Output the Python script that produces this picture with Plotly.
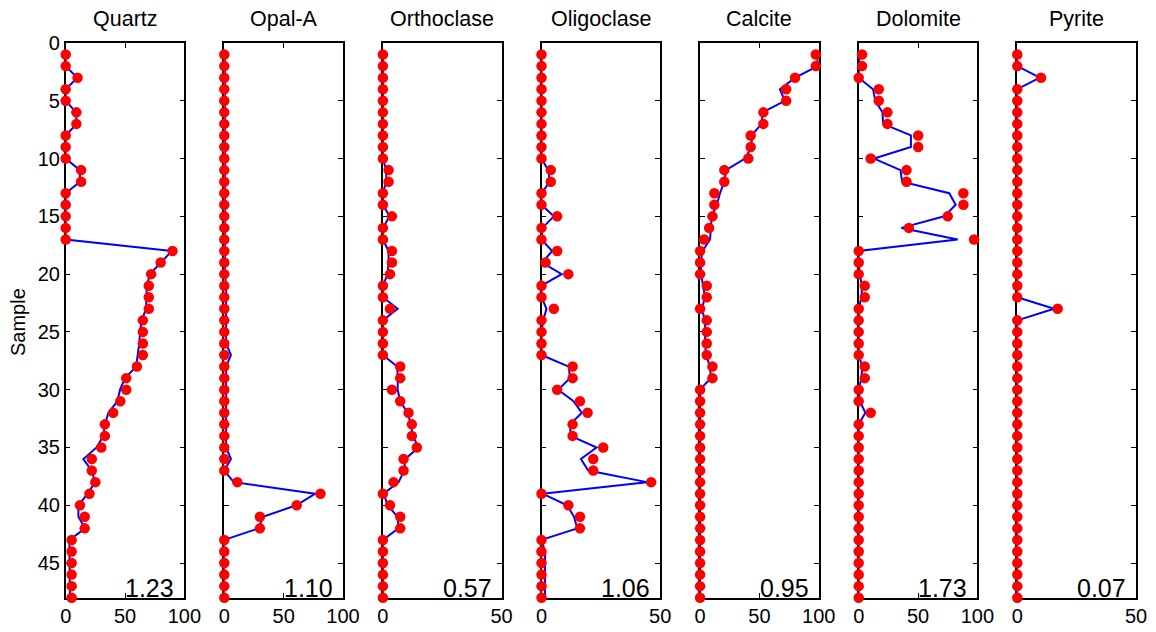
import plotly.graph_objects as go

# Sample numbers (depth order, top to bottom)
samples = list(range(1, 49))

minerals = ["Quartz", "Opal-A", "Orthoclase", "Oligoclase", "Calcite", "Dolomite", "Pyrite"]
x_max = [100, 100, 50, 50, 100, 100, 50]
x_ticks = [[0, 50, 100], [0, 50, 100], [0, 50], [0, 50], [0, 50, 100], [0, 50, 100], [0, 50]]
fit_error = ["1.23", "1.10", "0.57", "1.06", "0.95", "1.73", "0.07"]

# Measured weight percent (red dots)
quartz_meas = [0, 0, 10, 0, 0, 9, 9, 0, 0, 0, 13, 13, 0, 0, 0, 0, 0, 90, 80, 72,
               70, 70, 70, 65, 65, 65, 65, 60, 51, 51, 46, 40, 33, 33, 30, 22, 22, 25, 20, 12,
               16, 16, 5, 5, 5, 5, 5, 5]
opal_meas = [0] * 37 + [11, 81, 61, 30, 30, 0, 0, 0, 0, 0, 0]
orthoclase_meas = [0, 0, 0, 0, 0, 0, 0, 0, 0, 0, 2.4, 2.4, 0, 0, 3.8, 0, 0, 3.8, 3.8, 3,
                   0, 0, 3, 0, 0, 0, 0, 7.3, 7.3, 3.8, 7.3, 10.8, 12.2, 12.2, 14.3, 8.7, 8.7, 4.5, 0, 3,
                   7.3, 7.3, 0, 0, 0, 0, 0, 0]
oligoclase_meas = [0, 0, 0, 0, 0, 0, 0, 0, 0, 0, 3.9, 3.9, 0, 0, 6.6, 0, 0, 6.6, 1.7, 11.3,
                   0, 0, 5.2, 0, 0, 0, 0, 13.1, 13.1, 6.6, 16.2, 19.4, 13.1, 13.1, 26, 21.8, 21.8, 46.2, 0, 11.3,
                   16.2, 16.2, 0, 0, 0, 0, 0, 0]
calcite_meas = [97.5, 97.5, 80, 72.5, 72.5, 53.3, 53.3, 42.6, 42.6, 40.6, 20.4, 20.4, 12, 12, 10.4, 7.6, 3.4, 0, 0, 0,
                5.6, 5.6, 0, 5.6, 5.6, 5.6, 5.6, 10.4, 10.4, 0, 0, 0, 0, 0, 0, 0, 0, 0, 0, 0,
                0, 0, 0, 0, 0, 0, 0, 0]
dolomite_meas = [2.8, 2.8, 0, 16.9, 16.9, 24.2, 24.2, 50.1, 50.1, 10.1, 40.3, 40.3, 88.2, 88.2, 75, 42.3, 97.2, 0, 0, 0,
                 5.1, 5.1, 0, 0, 0, 0, 0, 5.1, 5.1, 0, 0, 10.1, 0, 0, 0, 0, 0, 0, 0, 0,
                 0, 0, 0, 0, 0, 0, 0, 0]
pyrite_meas = [0, 0, 10, 0, 0, 0, 0, 0, 0, 0, 0, 0, 0, 0, 0, 0, 0, 0, 0, 0,
               0, 0, 17, 0, 0, 0, 0, 0, 0, 0, 0, 0, 0, 0, 0, 0, 0, 0, 0, 0,
               0, 0, 0, 0, 0, 0, 0, 0]

# Modelled weight percent (blue lines)
quartz_model = [0, 0, 9.8, 0, 0, 8.7, 9.2, 0, 0, 0, 12, 12, 0, 0, 0, 0, 0, 89.4, 80, 71,
                68.3, 68.3, 67.7, 64, 62.6, 62, 60.7, 59.3, 50, 45.8, 43.5, 36, 33, 31.7, 26, 14.9, 21.9, 24.7, 18.5, 10.7,
                10.7, 16.3, 3.1, 3.1, 3.1, 3.6, 3.6, 3.6]
opal_model = [0.5] * 20 + [1.5, 1.5, 1.5, 1.5, 1.5, 1.5, 5.6, 1.5, 1.5, 1.5,
                           1.5, 1.5, 1.5, 1.5, 1.5, 5.6, 0, 7.9, 76.7, 60.7,
                           32.6, 28.9, 0, 0, 0, 0, 0, 0]
orthoclase_model = [0, 0, 0, 0, 0, 0, 0, 0, 0, 0, 1.4, 1.4, 0, 0, 2.8, 0, 0, 2.4, 2.4, 2,
                    0, 0, 6.2, 0, 0, 0, 0, 6, 6.3, 6.2, 7.3, 10.4, 11.8, 12.6, 15, 9.4, 9, 6.6, 0.3, 2,
                    6.2, 6.6, 0, 0, 0, 0, 0, 0]
oligoclase_model = [0, 0, 0, 0, 0, 0, 0, 0, 0, 0, 2.8, 3.5, 0, 0, 5.2, 0.4, 0, 4.5, 0.3, 8.5,
                    0, 0, 2.1, 0.7, 0, 0, 0, 11.5, 12, 7, 13.5, 17, 12, 12.3, 23.2, 16.6, 19.7, 44.4, 0.4, 10.8,
                    13.7, 15.1, 0, 1.5, 1.5, 1.5, 1.5, 1.5]
calcite_model = [99, 99, 80.1, 67.2, 71.4, 52.7, 51.8, 43.4, 43.4, 37.8, 21.8, 20.4, 16.8, 14, 9.8, 9, 8.4, 2, 0.6, 0.8,
                 2.8, 4.2, 1.4, 4.2, 4.2, 4.2, 5, 8.4, 9, 0, 0, 0, 0, 0, 0, 0, 0, 0, 0, 0,
                 0, 0, 0, 0, 0, 0, 0, 0]
dolomite_model = [0.5, 0.5, 0, 12.1, 14, 20, 20.6, 44, 44, 13, 35.2, 36.6, 76.3, 81.7, 72.1, 36, 83.4, 0, 0, 0.8,
                  2.8, 2.3, 0, 0, 0, 0, 0, 3, 2.3, 0, 1, 5.6, 0, 0, 0, 0, 0, 0, 0, 0,
                  0, 0, 0, 0, 0, 0, 0, 0]
pyrite_model = [0, 0, 9.5, 0, 0, 0, 0, 0, 0, 0, 0, 0, 0, 0, 0, 0, 0, 0, 0, 0,
                0, 0, 15.5, 0, 0, 0, 0, 0, 0, 0, 0, 0, 0, 0, 0, 0, 0, 0, 0, 0,
                0, 0, 0, 0, 0, 0, 0, 0]

measured = [quartz_meas, opal_meas, orthoclase_meas, oligoclase_meas,
            calcite_meas, dolomite_meas, pyrite_meas]
modelled = [quartz_model, opal_model, orthoclase_model, oligoclase_model,
            calcite_model, dolomite_model, pyrite_model]

W, H = 1156, 632
FONT = "Liberation Sans, Arial, Helvetica, sans-serif"
panel_left0 = 65.7      # px
panel_step = 158.6      # px
panel_width = 118.7     # px
plot_top, plot_bottom = 43.0, 597.7  # px

y_dom = [1 - plot_bottom / H, 1 - plot_top / H]

fig = go.Figure()
layout = dict(
    width=W, height=H,
    margin=dict(l=0, r=0, t=0, b=0, autoexpand=False),
    paper_bgcolor="white", plot_bgcolor="white",
    showlegend=False,
    font=dict(family=FONT, size=20, color="black"),
)
annotations = []

for i, name in enumerate(minerals):
    sfx = "" if i == 0 else str(i + 1)
    xa, ya = "x" + sfx, "y" + sfx
    left = panel_left0 + i * panel_step
    right = left + panel_width

    fig.add_trace(go.Scatter(
        x=modelled[i], y=samples, xaxis=xa, yaxis=ya, mode="lines",
        line=dict(color="#0000ff", width=2), cliponaxis=False, hoverinfo="skip",
    ))
    fig.add_trace(go.Scatter(
        x=measured[i], y=samples, xaxis=xa, yaxis=ya, mode="markers",
        marker=dict(color="#ff0000", size=10.5, line=dict(width=0)), cliponaxis=False,
    ))

    layout["xaxis" + sfx] = dict(
        domain=[left / W, right / W], range=[0, x_max[i]], anchor=ya,
        automargin=False,
        tickmode="array", tickvals=x_ticks[i], ticks="inside", ticklen=5,
        tickwidth=1, tickcolor="black", showline=True, linecolor="black",
        linewidth=1.5, mirror="ticks", showgrid=False, zeroline=False,
        tickfont=dict(size=20, family=FONT, color="black"), layer="below traces",
    )
    layout["yaxis" + sfx] = dict(
        domain=y_dom, range=[48, 0], anchor=xa,
        automargin=False,
        tickmode="array", tickvals=list(range(0, 50, 5)), ticks="inside", ticklen=5,
        tickwidth=1, tickcolor="black", showline=True, linecolor="black",
        linewidth=1.5, mirror="ticks", showgrid=False, zeroline=False,
        showticklabels=(i == 0),
        tickfont=dict(size=20, family=FONT, color="black"), layer="below traces",
    )

    # mineral name above the panel
    annotations.append(dict(
        text=name, xref="paper", yref="paper", x=(left + right) / 2 / W,
        y=1 - 19 / H, xanchor="center", yanchor="middle", showarrow=False,
        font=dict(size=21.5, family=FONT, color="black"),
    ))
    # fit error in the lower right corner
    annotations.append(dict(
        text=fit_error[i], xref="paper", yref="paper", x=(right - 8) / W,
        y=1 - (plot_bottom + 6) / H, xanchor="right", yanchor="bottom", showarrow=False,
        font=dict(size=25, family=FONT, color="black"),
    ))

annotations.append(dict(
    text="Sample", xref="paper", yref="paper", x=18 / W, y=1 - 322 / H,
    xanchor="center", yanchor="middle", textangle=-90, showarrow=False,
    font=dict(size=20, family=FONT, color="black"),
))
layout["annotations"] = annotations
fig.update_layout(**layout)
fig.write_html("out.html")
